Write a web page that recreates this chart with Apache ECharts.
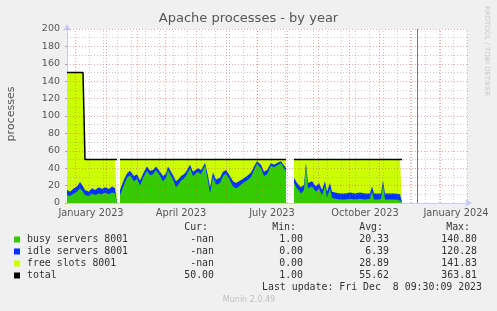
<!DOCTYPE html>
<html><head><meta charset="utf-8">
<script src="https://cdn.jsdelivr.net/npm/echarts@6/dist/echarts.min.js"></script>
<style>html,body{margin:0;padding:0;background:#f0f0f0}#c{width:497px;height:311px}</style>
</head><body><div id="c"></div><script>
// day 0 = 1 January 2023
const days  = [-39,-36,-32,-29,-26,-23,-22,-21,-17,-14,-11,-7,-4,-1,3,6,9,11,12,14,16,18,21,24,28,31,34,38,41,44,47,50,54,57,60,62,65,68,70,73,75,78,80,84,87,89,92,95,99,102,104,107,110,114,117,120,124,127,130,133,136,141,145,148,151,155,158,161,165,168,171,175,177,180,183,188,191,195,198,200,202,206,210,213,216,219,221,224,226,229,234,239,244,249,254,259,264,266,268,272,275,277,279,284,289,294,296];
const busy  = [9,8,11,13,17,13,11,9,8,11,9,11,10,12,10,12,11,9,null,9,15,21,29,32,25,28,20,31,37,32,33,38,31,25,29,38,31,24,18,22,26,28,31,40,31,29,36,33,43,25,11,30,21,23,31,34,26,19,17,19,22,26,30,38,45,40,31,33,43,41,43,46,48,36,null,23,17,11,15,44,17,19,13,17,9,20,6,17,6,5,4,4,5,4,5,4,5,13,4,4,5,21,4,4,4,3,3];
const idle  = [6,5,6,6,7,6,6,6,5,6,6,7,6,6,6,7,6,6,null,6,6,6,5,5,6,5,6,5,5,5,5,4,5,6,5,4,5,6,7,6,5,5,5,4,5,5,4,5,3,6,7,5,6,6,5,4,5,6,6,6,5,5,5,4,3,4,5,5,3,3,3,2,2,4,null,6,6,7,6,2,6,6,6,6,6,5,7,6,7,7,7,7,7,7,7,7,6,6,7,7,6,5,7,7,7,7,7];
const total = [150,150,150,150,150,150,150,50,50,50,50,50,50,50,50,50,50,50,null,50,50,50,50,50,50,50,50,50,50,50,50,50,50,50,50,50,50,50,50,50,50,50,50,50,50,50,50,50,50,50,50,50,50,50,50,50,50,50,50,50,50,50,50,50,50,50,50,50,50,50,50,50,50,50,null,50,50,50,50,50,50,50,50,50,50,50,50,50,50,50,50,50,50,50,50,50,50,50,50,50,50,50,50,50,50,50,50];

const xLabelDays  = [-15, 75, 166, 259, 350];
const xLabelTexts = ['January 2023','April 2023','July 2023','October 2023','January 2024'];
const monthStarts = [-31,0,31,59,90,120,151,181,212,243,273,304,334];
const nowDay = 311;

const legendNames  = ['busy servers 8001','idle servers 8001','free slots 8001','total'];
const legendColors = ['#33cc00','#0033ff','#ccff00','#000000'];
const curVals = ['-nan','-nan','-nan','50.00'];
const minVals = ['1.00','0.00','0.00','1.00'];
const avgVals = ['20.33','6.39','28.89','55.62'];
const maxVals = ['140.80','120.28','141.83','363.81'];

const XMIN = -39, XMAX = 361;
// stacked tops (busy, busy+idle, busy+idle+free = total)
const busyIdle = busy.map((b,i)=> b==null ? null : b + idle[i]);
const pair = arr => days.map((d,i)=>[d, arr[i]]);

const minorStyle = {color:'rgba(140,140,140,0.45)', type:[1,2], width:1};
const majorStyle = {color:'rgba(220,60,60,0.45)', type:[1,2], width:1};
const minorLines = [], majorLines = [];
for (let v = 10; v < 200; v += 20) minorLines.push({yAxis: v});
for (let d = -17; d <= XMAX; d += 14) minorLines.push({xAxis: d});
for (let v = 20; v <= 200; v += 20) majorLines.push({yAxis: v});
monthStarts.forEach(d => majorLines.push({xAxis: d}));

const mono = '9.9px "DejaVu Sans Mono"';
const txtColor = '#333';
const graphic = [];
function txt(text, x, y, font, fill, align, extra) {
  graphic.push(Object.assign({type:'text', silent:true, x:x, y:y, style:{text:text, font:font, fill:fill, align:align, textAlign:align, verticalAlign:'middle', textVerticalAlign:'middle'}}, extra||{}));
}
txt('Cur:', 208, 227.7, mono, txtColor, 'right');
txt('Min:', 296, 227.7, mono, txtColor, 'right');
txt('Avg:', 383, 227.7, mono, txtColor, 'right');
txt('Max:', 470, 227.7, mono, txtColor, 'right');
legendNames.forEach((n,i)=>{
  const y = 239.5 + 12*i;
  graphic.push({type:'rect', silent:true, shape:{x:14, y:y-3, width:6, height:6}, style:{fill:legendColors[i]}});
  txt(n, 27, y, mono, txtColor, 'left');
  txt(curVals[i], 214, y, mono, txtColor, 'right');
  txt(minVals[i], 303, y, mono, txtColor, 'right');
  txt(avgVals[i], 389, y, mono, txtColor, 'right');
  txt(maxVals[i], 477, y, mono, txtColor, 'right');
});
txt('Last update: Fri Dec  8 09:30:09 2023', 482, 287.7, mono, txtColor, 'right');
txt('Munin 2.0.49', 249, 300, '8px "DejaVu Sans"', '#c0c0c0', 'center');
txt('processes', 11, 114, '11px "DejaVu Sans"', '#555', 'center', {rotation: Math.PI/2});
txt('RRDTOOL / TOBI OETIKER', 487, 51, '7px "DejaVu Sans"', '#c8c8c8', 'center', {rotation: -Math.PI/2});

const areaSeries = (name, arr, color, z) => ({name, type:'line', data:pair(arr), symbol:'none', color,
  lineStyle:{width:0, opacity:0}, areaStyle:{color, opacity:1, origin:'start'}, z, connectNulls:false});
const ruleSeries = (name, lines, style, z) => ({name, type:'line', data:[], z, color:style.color,
  markLine:{silent:true, symbol:'none', label:{show:false}, animation:false, lineStyle:style, data:lines}});

const chart = echarts.init(document.getElementById('c'), null, {renderer:'canvas'});
chart.setOption({
  animation: false,
  backgroundColor: '#f0f0f0',
  title: {text:'Apache processes - by year', left:'center', top:12, padding:0,
    textStyle:{fontFamily:'DejaVu Sans', fontSize:13, fontWeight:'normal', color:'#555'}},
  grid: {left:67, top:29, width:400, height:174, show:true, backgroundColor:'#ffffff', borderWidth:0},
  xAxis: {type:'value', min:XMIN, max:XMAX,
    axisLine:{show:true, onZero:false, lineStyle:{color:'#c8ccf5', width:1}, symbol:['none','arrow'], symbolSize:[6,7], symbolOffset:[0,5]},
    axisTick:{show:false}, splitLine:{show:false},
    axisLabel:{customValues: xLabelDays, formatter: v => xLabelTexts[xLabelDays.indexOf(v)] || '',
      fontFamily:'DejaVu Sans', fontSize:9.8, color:'#555', margin:5, showMinLabel:true, showMaxLabel:true, hideOverlap:false}},
  yAxis: {type:'value', min:0, max:200, interval:20,
    axisLine:{show:true, onZero:false, lineStyle:{color:'#c8ccf5', width:1}, symbol:['none','arrow'], symbolSize:[6,7], symbolOffset:[0,5]},
    axisTick:{show:true, length:2, lineStyle:{color:'#aaa'}}, splitLine:{show:false},
    axisLabel:{fontFamily:'DejaVu Sans', fontSize:9.5, color:'#555', margin:7}},
  graphic: graphic,
  series: [
    areaSeries('free slots 8001', total, legendColors[2], 2),
    areaSeries('idle servers 8001', busyIdle, legendColors[1], 3),
    areaSeries('busy servers 8001', busy, legendColors[0], 4),
    ruleSeries('minor grid', minorLines, minorStyle, 5),
    ruleSeries('major grid', majorLines, majorStyle, 5),
    ruleSeries('now', [{xAxis: nowDay}], {color:'#7a7a7a', type:'solid', width:1}, 5),
    {name:'total', type:'line', data:pair(total), symbol:'none', color:'#000', lineStyle:{color:'#000', width:1.5}, z:6}
  ]
});
</script></body></html>
